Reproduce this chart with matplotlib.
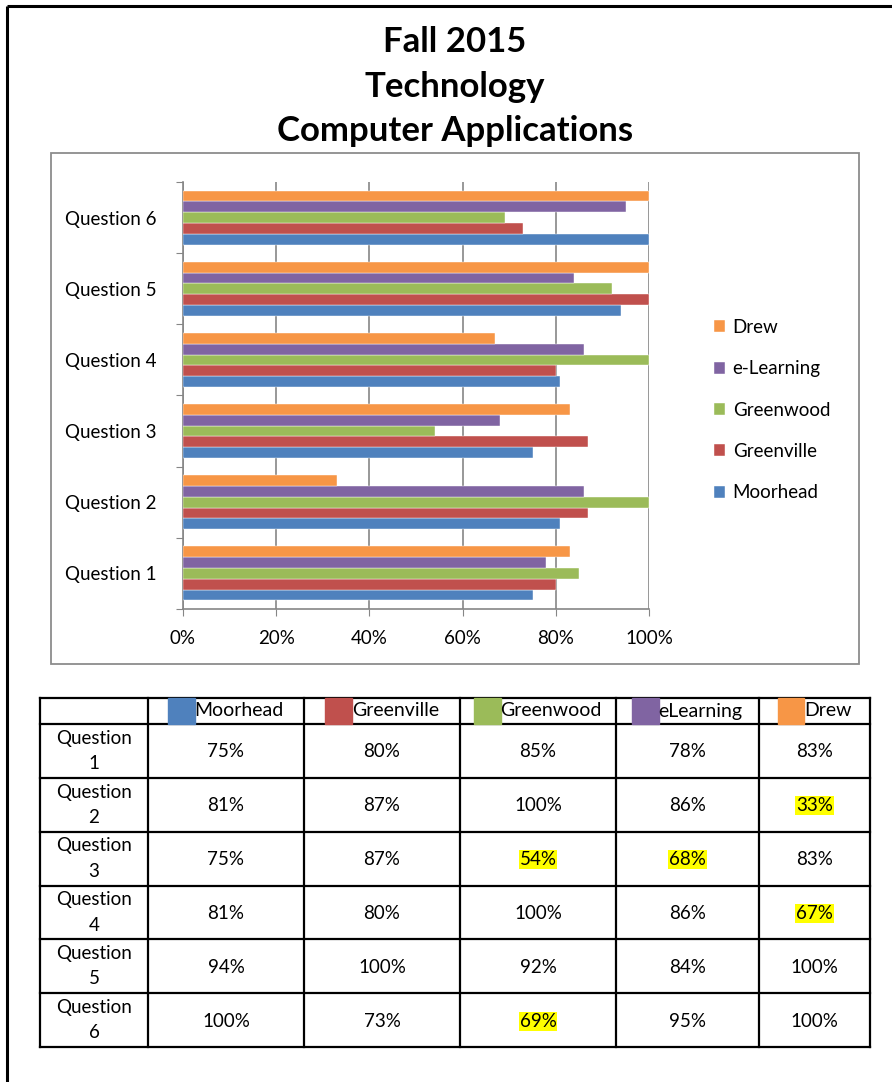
import matplotlib
matplotlib.use("Agg")
import matplotlib.pyplot as plt
from matplotlib.patches import Rectangle
from matplotlib.offsetbox import AnnotationBbox, HPacker, DrawingArea, TextArea

plt.rcParams['font.family'] = ['Lato', 'DejaVu Sans']

# data
questions = ["Question 1", "Question 2", "Question 3", "Question 4", "Question 5", "Question 6"]
sites = ["Moorhead", "Greenville", "Greenwood", "eLearning", "Drew"]
legend_names = ["Moorhead", "Greenville", "Greenwood", "e-Learning", "Drew"]
moorhead = [75, 81, 75, 81, 94, 100]
greenville = [80, 87, 87, 80, 100, 73]
greenwood = [85, 100, 54, 100, 92, 69]
elearning = [78, 86, 68, 86, 84, 95]
drew = [83, 33, 83, 67, 100, 100]
series = [moorhead, greenville, greenwood, elearning, drew]
colors = ["#4F81BD", "#C0504D", "#9BBB59", "#8064A2", "#F79646"]
x_ticks = [0, 20, 40, 60, 80, 100]

W, H = 892, 1082
fig = plt.figure(figsize=(W / 100, H / 100), dpi=100)

# page overlay in pixel coordinates
page = fig.add_axes([0, 0, 1, 1])
page.set_xlim(0, W)
page.set_ylim(H, 0)
page.axis("off")

# page border (top and left)
page.plot([7, W], [6, 6], color="black", lw=2.2, solid_capstyle="butt")
page.plot([7, 7], [6, H], color="black", lw=2.2, solid_capstyle="butt")

# title
for txt, y in zip(["Fall 2015", "Technology", "Computer Applications"], [42, 87, 131]):
    page.text(455, y, txt, ha="center", va="center", fontsize=25, fontweight="bold")

# chart frame
page.add_patch(Rectangle((51, 153), 808, 511, fill=False, edgecolor="#8C8C8C", lw=1.3))

# bar chart
ax = fig.add_axes([183 / W, 1 - 609 / H, 466 / W, 427 / H])
n = len(series)
bh = 0.152
for i, (vals, c, name) in enumerate(zip(series, colors, legend_names)):
    pos = [q + 1 + (i - (n - 1) / 2) * bh for q in range(len(questions))]
    ax.barh(pos, vals, height=bh, color=c, edgecolor="white", linewidth=0.3, label=name, zorder=3)

ax.set_xlim(0, 100)
ax.set_ylim(0.5, len(questions) + 0.5)
ax.set_xticks(x_ticks)
ax.set_xticklabels([f"{t}%" for t in x_ticks], fontsize=13.5)
ax.set_yticks([q + 0.5 for q in range(len(questions) + 1)])
ax.set_yticklabels([])
ax.set_yticks(range(1, len(questions) + 1), minor=True)
ax.set_yticklabels(questions, minor=True, fontsize=13.5)
ax.tick_params(axis="y", which="minor", length=0, pad=19)
ax.tick_params(axis="y", which="major", length=5, color="#868686", direction="out")
ax.tick_params(axis="x", length=5, color="#868686", direction="out", pad=10)
ax.grid(axis="x", color="#868686", lw=1.2, zorder=0)
for s in ["top", "right"]:
    ax.spines[s].set_visible(False)
for s in ["left", "bottom"]:
    ax.spines[s].set_color("#868686")
    ax.spines[s].set_linewidth(1.2)

h, l = ax.get_legend_handles_labels()
ax.legend(h[::-1], l[::-1], loc="upper left", bbox_to_anchor=(697 / W, 1 - 302 / H),
          bbox_transform=fig.transFigure, frameon=False, fontsize=13.5,
          handlelength=0.6, handleheight=0.6, handletextpad=0.4, labelspacing=1.3)

# table
col_x = [40, 148, 304, 460, 616, 759, 870]
row_y = [698, 724, 777.8, 831.7, 885.5, 939.3, 993.2, 1047]
for x in col_x:
    page.plot([x, x], [row_y[0], row_y[-1]], color="black", lw=1.6, solid_capstyle="projecting")
for y in row_y:
    page.plot([col_x[0], col_x[-1]], [y, y], color="black", lw=1.6, solid_capstyle="projecting")

hy = (row_y[0] + row_y[1]) / 2
for j, (name, c) in enumerate(zip(sites, colors)):
    cx = (col_x[j + 1] + col_x[j + 2]) / 2
    da = DrawingArea(19, 19, 0, 0)
    da.add_artist(Rectangle((0, 0), 19, 19, color=c))
    ta = TextArea(name, textprops=dict(fontsize=14))
    box = HPacker(children=[da, ta], align="center", pad=0, sep=0)
    page.add_artist(AnnotationBbox(box, (cx, hy), xycoords="data", frameon=False, pad=0,
                                   box_alignment=(0.5, 0.5)))

for i, q in enumerate(questions):
    cy = (row_y[i + 1] + row_y[i + 2]) / 2
    page.text((col_x[0] + col_x[1]) / 2, cy, q.replace(" ", "\n"), ha="center", va="center",
              fontsize=13.5, linespacing=1.6)
    for j, vals in enumerate(series):
        v = vals[i]
        cx = (col_x[j + 1] + col_x[j + 2]) / 2
        kw = {}
        if v < 70:
            kw["bbox"] = dict(boxstyle="square,pad=0.05", facecolor="#FFFF00", edgecolor="none")
        page.text(cx, cy + 1, f"{v}%", ha="center", va="center", fontsize=13.5, **kw)

fig.savefig("out.png", dpi=100)
